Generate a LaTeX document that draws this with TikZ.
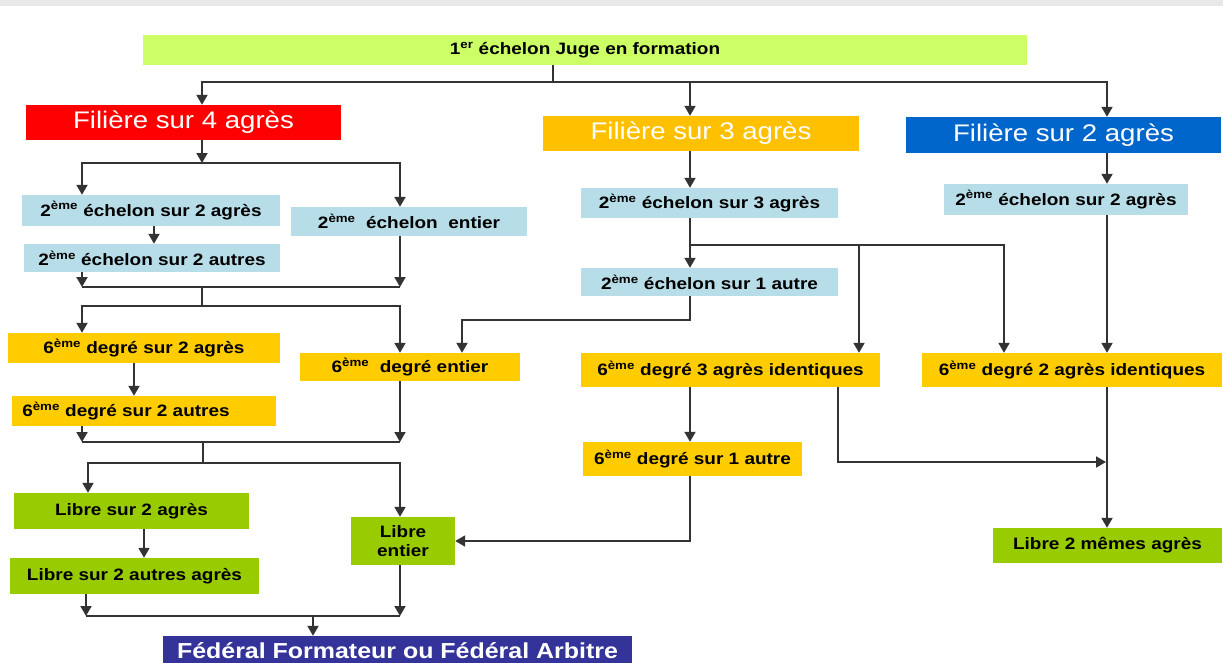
\documentclass[tikz,border=0pt]{standalone}
\usepackage{fontspec}
\setmainfont{Liberation Sans}[FakeStretch=1.15]
\usetikzlibrary{arrows.meta}
\definecolor{topgreen}{HTML}{CCFF66}
\definecolor{fred}{HTML}{FF0000}
\definecolor{forange}{HTML}{FFC000}
\definecolor{fblue}{HTML}{0066CC}
\definecolor{lblue}{HTML}{B7DDE8}
\definecolor{dyellow}{HTML}{FFCC00}
\definecolor{lgreen}{HTML}{99CC00}
\definecolor{fedblue}{HTML}{333399}
\definecolor{linec}{HTML}{333333}
\tikzset{
  box/.style={rectangle, inner sep=0pt, align=center},
  smalltxt/.style={font=\fontsize{16.5}{19}\selectfont\bfseries, text=black},
  titletxt/.style={font=\fontsize{24}{28}\selectfont, text=white},
  greentop/.style={box, smalltxt, fill=topgreen},
  filbox/.style={box, titletxt},
  echbox/.style={box, smalltxt, fill=lblue},
  degbox/.style={box, smalltxt, fill=dyellow},
  librebox/.style={box, smalltxt, fill=lgreen},
  fedbox/.style={box, fill=fedblue, text=white, font=\fontsize{21.7}{24}\selectfont\bfseries},
  conn/.style={draw=linec, line width=1.9pt},
  arr/.style={conn, -{Triangle[length=10pt,width=11pt]}},
}
\newcommand{\eme}{\textsuperscript{ème}}
\begin{document}
\begin{tikzpicture}[x=1pt,y=-1pt]
\useasboundingbox (0,0) rectangle (1223,662);
\clip (0,0) rectangle (1223,662);
\fill[white] (0,0) rectangle (1223,662);
\fill[gray!18] (0,0) rectangle (1223,6);

% nodes
\node[greentop, minimum width=884pt, minimum height=30pt] (top) at (585,50) {1\textsuperscript{er} échelon Juge en formation};
\node[filbox, fill=fred, minimum width=315pt, minimum height=35pt] (f4) at (183.5,122.5) {Filière sur 4 agrès};
\node[filbox, fill=forange, minimum width=316pt, minimum height=35pt] (f3) at (701,133.5) {Filière sur 3 agrès};
\node[filbox, fill=fblue, minimum width=315pt, minimum height=36pt] (f2) at (1063.5,135) {Filière sur 2 agrès};

\node[echbox, minimum width=258pt, minimum height=31pt] (e2a) at (151,210.5) {2\eme{} échelon sur 2 agrès};
\node[echbox, minimum width=236pt, minimum height=29pt] (e2e) at (409,221.5) {2\eme{}\ \ échelon\ \ entier};
\node[echbox, minimum width=256pt, minimum height=28pt] (e2b) at (152,258) {2\eme{} échelon sur 2 autres};
\node[echbox, minimum width=257pt, minimum height=30pt] (e3a) at (709.5,203) {2\eme{} échelon sur 3 agrès};
\node[echbox, minimum width=257pt, minimum height=28pt] (e3b) at (709.5,282) {2\eme{} échelon sur 1 autre};
\node[echbox, minimum width=244pt, minimum height=31pt] (e2r) at (1066,199.5) {2\eme{} échelon sur 2 agrès};

\node[degbox, minimum width=272pt, minimum height=30pt] (d2a) at (144,348) {6\eme{} degré sur 2 agrès};
\node[degbox, minimum width=220pt, minimum height=28pt] (de) at (410,367) {6\eme{}\ \ degré entier};
\node[degbox, minimum width=264pt, minimum height=30pt] (d2b) at (144,411) {6\eme{} degré sur 2 autres\kern36pt};
\node[degbox, minimum width=299pt, minimum height=34pt] (d3i) at (730.5,370) {6\eme{} degré 3 agrès identiques};
\node[degbox, minimum width=300pt, minimum height=34pt] (d2i) at (1072,370) {6\eme{} degré 2 agrès identiques};
\node[degbox, minimum width=219pt, minimum height=34pt] (d1) at (692.5,459) {6\eme{} degré sur 1 autre};

\node[librebox, minimum width=235pt, minimum height=36pt] (l2a) at (131.5,511) {Libre sur 2 agrès};
\node[librebox, minimum width=104pt, minimum height=48pt] (le) at (403,541) {Libre\\entier};
\node[librebox, minimum width=249pt, minimum height=36pt] (l2b) at (134.5,576) {Libre sur 2 autres agrès};
\node[librebox, minimum width=229pt, minimum height=35pt] (lm) at (1107.5,545.5) {Libre 2 mêmes agrès};

\node[fedbox, minimum width=469pt, minimum height=30pt] (fed) at (397.5,651) {Fédéral Formateur ou Fédéral Arbitre};

% coordinates
\coordinate (cA) at (202,0);
\coordinate (cB) at (690,0);
\coordinate (cC) at (1107,0);
\coordinate (cD) at (82,0);
\coordinate (cE) at (400,0);
\coordinate (cF) at (154,0);
\coordinate (cG) at (134,0);
\coordinate (cH) at (88,0);
\coordinate (cI) at (144,0);
\coordinate (cJ) at (86,0);
\coordinate (cK) at (859,0);
\coordinate (cL) at (1004,0);
\coordinate (cM) at (462,0);
\coordinate (cN) at (838,0);
\coordinate (j0) at (553,82);
\coordinate (j1) at (202,163);
\coordinate (j2) at (202,287);
\coordinate (j3) at (202,306);
\coordinate (j4) at (203,442);
\coordinate (j5) at (203,463);
\coordinate (j6) at (313,616);
\coordinate (j7) at (690,245);
\coordinate (j8) at (690,320);
\coordinate (j9) at (1106,462);

% connectors left
\draw[conn] (top.south -| j0) -- (j0);
\draw[arr] (j0) -| (f4.north -| cA);
\draw[arr] (j0) -| (f3.north -| cB);
\draw[arr] (j0) -| (f2.north -| cC);

\draw[arr] (f4.south -| cA) -- (j1);
\draw[arr] (j1) -| (e2a.north -| cD);
\draw[arr] (j1) -| (e2e.north -| cE);
\draw[arr] (e2a.south -| cF) -- (e2b.north -| cF);

\draw[arr] (e2b.south -| cD) -- (j2 -| cD);
\draw[arr] (e2e.south -| cE) -- (j2 -| cE);
\draw[conn] (j2 -| cD) -- (j2 -| cE);
\draw[conn] (j2) -- (j3);
\draw[arr] (j3) -| (d2a.north -| cD);
\draw[arr] (j3) -| (de.north -| cE);
\draw[arr] (d2a.south -| cG) -- (d2b.north -| cG);

\draw[arr] (d2b.south -| cD) -- (j4 -| cD);
\draw[arr] (de.south -| cE) -- (j4 -| cE);
\draw[conn] (j4 -| cD) -- (j4 -| cE);
\draw[conn] (j4) -- (j5);
\draw[arr] (j5) -| (l2a.north -| cH);
\draw[arr] (j5) -| (le.north -| cE);
\draw[arr] (l2a.south -| cI) -- (l2b.north -| cI);

\draw[arr] (l2b.south -| cJ) -- (j6 -| cJ);
\draw[arr] (le.south -| cE) -- (j6 -| cE);
\draw[conn] (j6 -| cJ) -- (j6 -| cE);
\draw[arr] (j6) -- (fed.north -| j6);

% connectors right
\draw[arr] (f3.south -| cB) -- (e3a.north -| cB);
\draw[arr] (e3a.south -| cB) -- (e3b.north -| cB);
\draw[arr] (j7) -| (d3i.north -| cK);
\draw[arr] (j7) -| (d2i.north -| cL);
\draw[arr] (e3b.south -| cB) -- (j8) -| (de.north -| cM);
\draw[arr] (f2.south -| cC) -- (e2r.north -| cC);
\draw[arr] (e2r.south -| cC) -- (d2i.north -| cC);
\draw[arr] (d3i.south -| cN) |- (j9);
\draw[arr] (d2i.south -| cC) -- (lm.north -| cC);
\draw[arr] (d3i.south -| cB) -- (d1.north -| cB);
\draw[arr] (d1.south -| cB) |- (le.east);
\end{tikzpicture}
\end{document}
